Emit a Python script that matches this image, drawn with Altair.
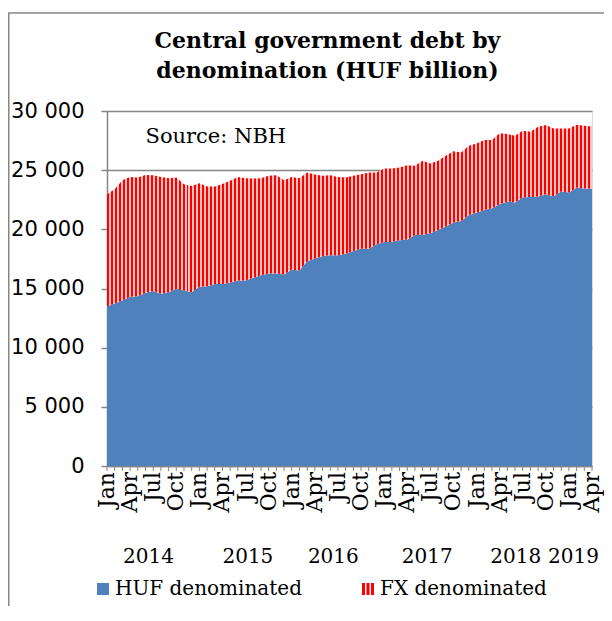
import altair as alt
import pandas as pd

# ---------------- data (HUF billion, monthly Jan 2014 - Apr 2019) ----------------
month_abbr = ["Jan", "Feb", "Mar", "Apr", "May", "Jun",
              "Jul", "Aug", "Sep", "Oct", "Nov", "Dec"]
years = ["2014", "2015", "2016", "2017", "2018", "2019"]
n_months = 64

huf = [13500, 13730, 14010, 14300, 14350, 14640, 14780, 14550, 14690, 14970, 14830, 14690,
       15140, 15200, 15370, 15370, 15480, 15680, 15680, 15910, 16130, 16270, 16270, 16190,
       16610, 16530, 17310, 17540, 17740, 17820, 17820, 17940, 18160, 18360, 18360, 18730,
       18930, 18930, 19070, 19150, 19520, 19550, 19660, 19940, 20230, 20570, 20700, 21210,
       21400, 21640, 21780, 22120, 22350, 22260, 22710, 22740, 22770, 22970, 22770, 23220,
       23110, 23530, 23450, 23450]
fx = [9470, 9660, 10140, 10130, 10030, 9960, 9800, 9880, 9630, 9410, 8980, 8980,
      8760, 8420, 8250, 8470, 8620, 8750, 8640, 8390, 8190, 8250, 8310, 7960,
      7820, 7790, 7490, 7100, 6780, 6760, 6610, 6440, 6360, 6300, 6440, 6070,
      6210, 6210, 6160, 6270, 5850, 6250, 5910, 5860, 5980, 6020, 5800, 5850,
      5850, 5900, 5760, 5990, 5700, 5650, 5620, 5510, 5900, 5850, 5760, 5310,
      5420, 5310, 5310, 5250]

series_names = ["HUF denominated", "FX denominated"]
title_lines = ["Central government debt by", "denomination (HUF billion)"]
source_note = "Source: NBH"
y_ticks = [0, 5000, 10000, 15000, 20000, 25000, 30000]
label_every = 3                                   # Jan / Apr / Jul / Oct
# year label centres, in month-index units, as laid out in the original
year_label_pos = [5.4, 18.3, 29.4, 41.6, 53.1, 60.6]

# ---------------- tables ----------------
df = pd.DataFrame({"idx": list(range(n_months)), "huf": huf, "fx": fx})
df["month"] = [month_abbr[i % 12] for i in range(n_months)]
df["total"] = df["huf"] + df["fx"]
df["zero"] = 0
month_lab_df = df[df["idx"] % label_every == 0][["idx", "month"]]
years_df = pd.DataFrame({"year": years, "pos": year_label_pos})
legend_df = pd.DataFrame({"series": series_names})
note_df = pd.DataFrame({"note": [source_note]})
dummy = pd.DataFrame({"d": [0]})

# ---------------- styles ----------------
BLUE = "#4F81BD"
RED = "#FF0000"
GREY = "#868686"
SERIF = "DejaVu Serif"
SANS = "DejaVu Sans"
W, H = 485, 355
PAD = {"left": 99, "top": 103, "right": 12, "bottom": 140}

# vertical red/white stripes for the FX area
periods = 122
stops = []
for k in range(periods):
    a, m, b = k / periods, (k + 0.5) / periods, (k + 1) / periods
    stops += [alt.GradientStop(offset=a, color=RED),
              alt.GradientStop(offset=m, color=RED),
              alt.GradientStop(offset=m, color="#FFC4C4"),
              alt.GradientStop(offset=b, color="#FFC4C4")]
stripes = alt.LinearGradient(gradient="linear", stops=stops, x1=0, x2=1, y1=0, y2=0)

x_axis = alt.Axis(values=list(range(0, n_months, label_every)), labels=False, ticks=False,
                  domainColor=GREY, domainWidth=1.5, grid=False, title=None)
y_axis = alt.Axis(values=y_ticks, labelExpr="replace(format(datum.value, ','), ',', ' ')",
                  labelFont=SANS, labelFontSize=21, labelColor="black",
                  tickSize=6, tickColor=GREY, tickWidth=1.5, labelPadding=17,
                  domainColor=GREY, domainWidth=1.5, gridColor=GREY, gridWidth=1.5,
                  title=None)
x_scale = alt.Scale(domain=[0, n_months - 1], nice=False, zero=False)
y_scale = alt.Scale(domain=[0, 30000], nice=False)

X = alt.X("idx:Q", scale=x_scale, axis=x_axis)
Y = lambda f: alt.Y(f, scale=y_scale, axis=y_axis)

huf_area = alt.Chart(df).mark_area(color=BLUE, interpolate="linear").encode(
    x=X, y=Y("huf:Q"), y2="zero:Q")

fx_area = alt.Chart(df).mark_area(fill=stripes, interpolate="linear").encode(
    x=X, y=Y("total:Q"), y2="huf:Q")

# small monthly ticks on the category axis
month_ticks = alt.Chart(df).mark_rule(color=GREY, strokeWidth=1).encode(
    x=X, y=alt.value(H), y2=alt.value(H + 5))

# rotated month labels
month_labels = alt.Chart(month_lab_df).mark_text(
    font=SERIF, fontSize=22, angle=270, align="right", baseline="middle",
    color="black").encode(x=X, y=alt.value(H + 6), text="month:N")

note = alt.Chart(note_df).mark_text(font=SERIF, fontSize=21, align="left",
                                    baseline="middle", color="black").encode(
    x=alt.datum(5), y=alt.datum(27800), text="note:N")

year_text = alt.Chart(years_df).mark_text(font=SERIF, fontSize=20, baseline="middle",
                                          color="black").encode(
    x=alt.X("pos:Q", scale=x_scale, axis=x_axis), y=alt.value(H + 91), text="year:N")

bars_path = "M-1,-1H-0.5V1H-1Z M-0.25,-1H0.25V1H-0.25Z M0.5,-1H1V1H0.5Z"
leg = alt.Legend(title=None, orient="none", legendX=-14, legendY=H + 113,
                 direction="horizontal", labelFont=SERIF, labelFontSize=20,
                 labelColor="black", symbolSize=144, symbolOpacity=1,
                 symbolStrokeWidth=0, columnPadding=56, labelOffset=2,
                 padding=0, labelLimit=400)
legend_layer = alt.Chart(legend_df).mark_point(filled=True, opacity=0).encode(
    x=alt.value(10), y=alt.value(300),
    color=alt.Color("series:N", scale=alt.Scale(domain=series_names, range=[BLUE, RED]),
                    legend=leg),
    shape=alt.Shape("series:N", scale=alt.Scale(domain=series_names,
                                                range=["square", bars_path]),
                    legend=leg))

# outer chart frame (left and top edges, as in the original)
border_left = alt.Chart(dummy).mark_rule(color=GREY, strokeWidth=1.5).encode(
    x=alt.value(-PAD["left"] + 0.75), y=alt.value(-98), y2=alt.value(H + PAD["bottom"]))
border_top = alt.Chart(dummy).mark_rule(color=GREY, strokeWidth=1.5).encode(
    x=alt.value(-PAD["left"]), x2=alt.value(W + PAD["right"]), y=alt.value(-98))

chart = alt.layer(
    border_left, border_top, huf_area, fx_area, month_ticks, month_labels, note,
    year_text, legend_layer
).properties(
    width=W, height=H,
    padding=PAD,
    autosize=alt.AutoSizeParams(type="none"),
    title=alt.TitleParams(text=title_lines, font=SERIF, fontSize=22, fontWeight="bold",
                          color="black", anchor="middle", dx=-22, offset=-71,
                          lineHeight=30),
).configure_view(stroke=None).configure(background="white")

chart.save("out.html", embed_options={"renderer": "svg", "actions": False})
